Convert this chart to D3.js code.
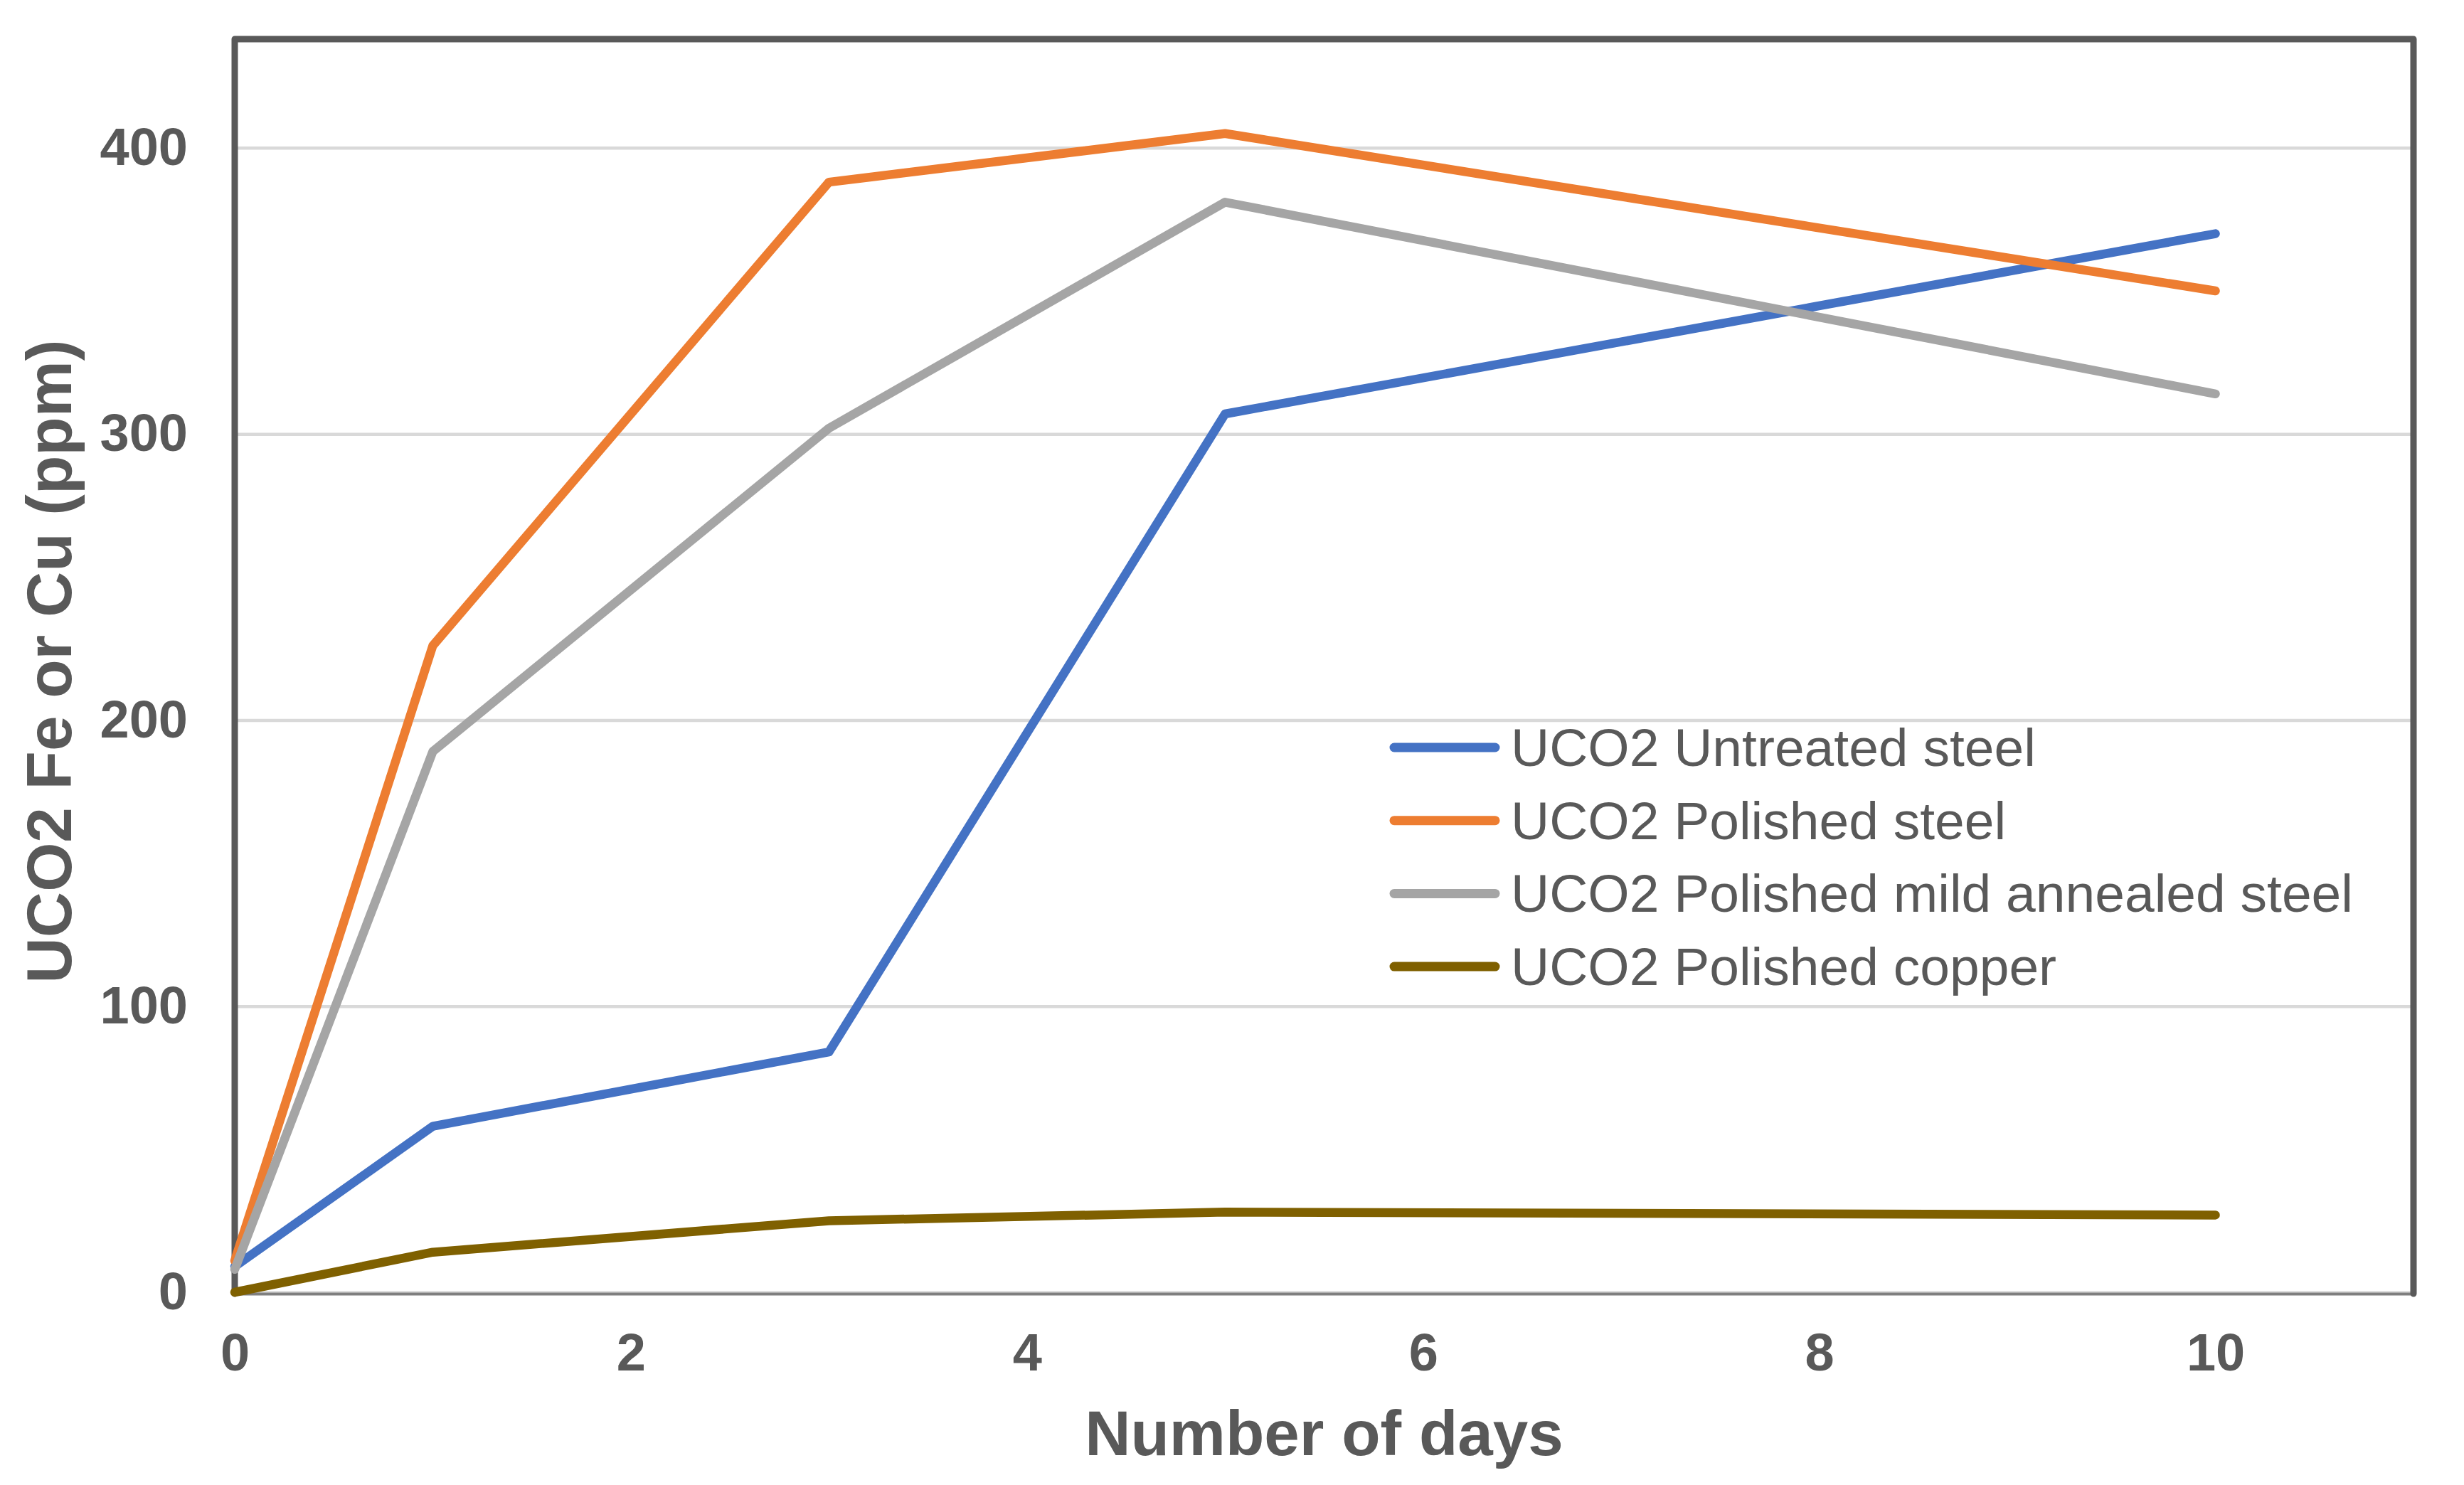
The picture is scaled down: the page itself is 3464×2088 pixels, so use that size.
<!DOCTYPE html>
<html>
<head>
<meta charset="utf-8">
<script src="https://cdn.jsdelivr.net/npm/d3@7"></script>
<style>
  html, body { margin: 0; padding: 0; background: #fff; }
  svg { display: block; }
  text { font-family: "Liberation Sans", Arial, sans-serif; fill: #595959; }
</style>
</head>
<body>
<svg id="chart" width="3464" height="2088"></svg>
<script>
'use strict';

// values
var days = [0, 1, 3, 5, 10];
var untreatedSteel = [9, 58, 84, 307, 370];
var polishedSteel = [11, 226, 388, 405, 350];
var polishedMildAnnealed = [8, 189, 302, 381, 314];
var polishedCopper = [0, 14, 25, 28, 27];

var seriesNames = [
  'UCO2 Untreated steel',
  'UCO2 Polished steel',
  'UCO2 Polished mild annealed steel',
  'UCO2 Polished copper'
];
var seriesColors = ['#4472C4', '#ED7D31', '#A5A5A5', '#7F6000'];
var seriesValues = [untreatedSteel, polishedSteel, polishedMildAnnealed, polishedCopper];

var xTicks = [0, 2, 4, 6, 8, 10];
var yTicks = [0, 100, 200, 300, 400];

var width = 3464, height = 2088;
var margin = {top: 55, right: 71, bottom: 271, left: 330};

var svg = d3.select('#chart');

var x = d3.scaleLinear().domain([0, 11]).range([margin.left, width - margin.right]);
var y = d3.scaleLinear().domain([0, 438]).range([height - margin.bottom, margin.top]);

// gridlines
svg.append('g')
  .attr('class', 'grid')
  .attr('transform', 'translate(' + margin.left + ',0)')
  .call(d3.axisLeft(y).tickValues(yTicks).tickSize(-(x.range()[1] - x.range()[0])).tickFormat(''))
  .call(function(g) {
    g.select('.domain').remove();
    g.selectAll('line').attr('stroke', '#d9d9d9').attr('stroke-width', 4.5);
  });

// x axis line + labels
svg.append('g')
  .attr('class', 'x-axis')
  .attr('transform', 'translate(0,' + y(0) + ')')
  .call(d3.axisBottom(x).tickValues(xTicks).tickSize(0).tickPadding(57).tickFormat(d3.format('d')))
  .call(function(g) {
    g.select('.domain').attr('stroke', '#7f7f7f').attr('stroke-width', 4).attr('transform', 'translate(0,2)');
    g.selectAll('text')
      .attr('font-size', 74)
      .attr('font-weight', 'bold')
      .attr('fill', '#595959')
      .attr('font-family', '"Liberation Sans", Arial, sans-serif');
  });

// y axis labels
svg.append('g')
  .attr('class', 'y-axis')
  .attr('transform', 'translate(' + margin.left + ',0)')
  .call(d3.axisLeft(y).tickValues(yTicks).tickSize(0).tickPadding(66).tickFormat(d3.format('d')))
  .call(function(g) {
    g.select('.domain').remove();
    g.selectAll('text')
      .attr('font-size', 74)
      .attr('font-weight', 'bold')
      .attr('fill', '#595959')
      .attr('font-family', '"Liberation Sans", Arial, sans-serif');
  });

// plot frame: left, top, right in dark grey
var x0 = x.range()[0], x1 = x.range()[1], yb = y.range()[0], yt = y.range()[1];
svg.append('path')
  .attr('d', 'M' + x0 + ',' + (yb + 2) + 'V' + yt + 'H' + x1 + 'V' + (yb + 2))
  .attr('fill', 'none')
  .attr('stroke', '#595959')
  .attr('stroke-width', 9)
  .attr('stroke-linejoin', 'round')
  .attr('stroke-linecap', 'round');

// series lines
var line = d3.line()
  .x(function(d) { return x(d[0]); })
  .y(function(d) { return y(d[1]); });

seriesValues.forEach(function(vals, i) {
  var pts = days.map(function(d, j) { return [d, vals[j]]; });
  svg.append('path')
    .datum(pts)
    .attr('d', line)
    .attr('fill', 'none')
    .attr('stroke', seriesColors[i])
    .attr('stroke-width', 12.5)
    .attr('stroke-linejoin', 'round')
    .attr('stroke-linecap', 'round');
});

// legend
var legend = svg.append('g').attr('class', 'legend');
seriesNames.forEach(function(name, i) {
  var ly = 1051 + i * 102.7;
  legend.append('line')
    .attr('x1', 1960).attr('x2', 2102)
    .attr('y1', ly).attr('y2', ly)
    .attr('stroke', seriesColors[i])
    .attr('stroke-width', 13)
    .attr('stroke-linecap', 'round');
  legend.append('text')
    .attr('x', 2124)
    .attr('y', ly + 26)
    .attr('font-size', 75)
    .text(name);
});

// axis titles
svg.append('text')
  .attr('x', (x0 + x1) / 2)
  .attr('y', 2046)
  .attr('text-anchor', 'middle')
  .attr('font-size', 89)
  .attr('font-weight', 'bold')
  .text('Number of days');

svg.append('text')
  .attr('transform', 'translate(100,' + 930 + ') rotate(-90)')
  .attr('text-anchor', 'middle')
  .attr('font-size', 89)
  .attr('font-weight', 'bold')
  .text('UCO2 Fe or Cu (ppm)');
</script>
</body>
</html>
